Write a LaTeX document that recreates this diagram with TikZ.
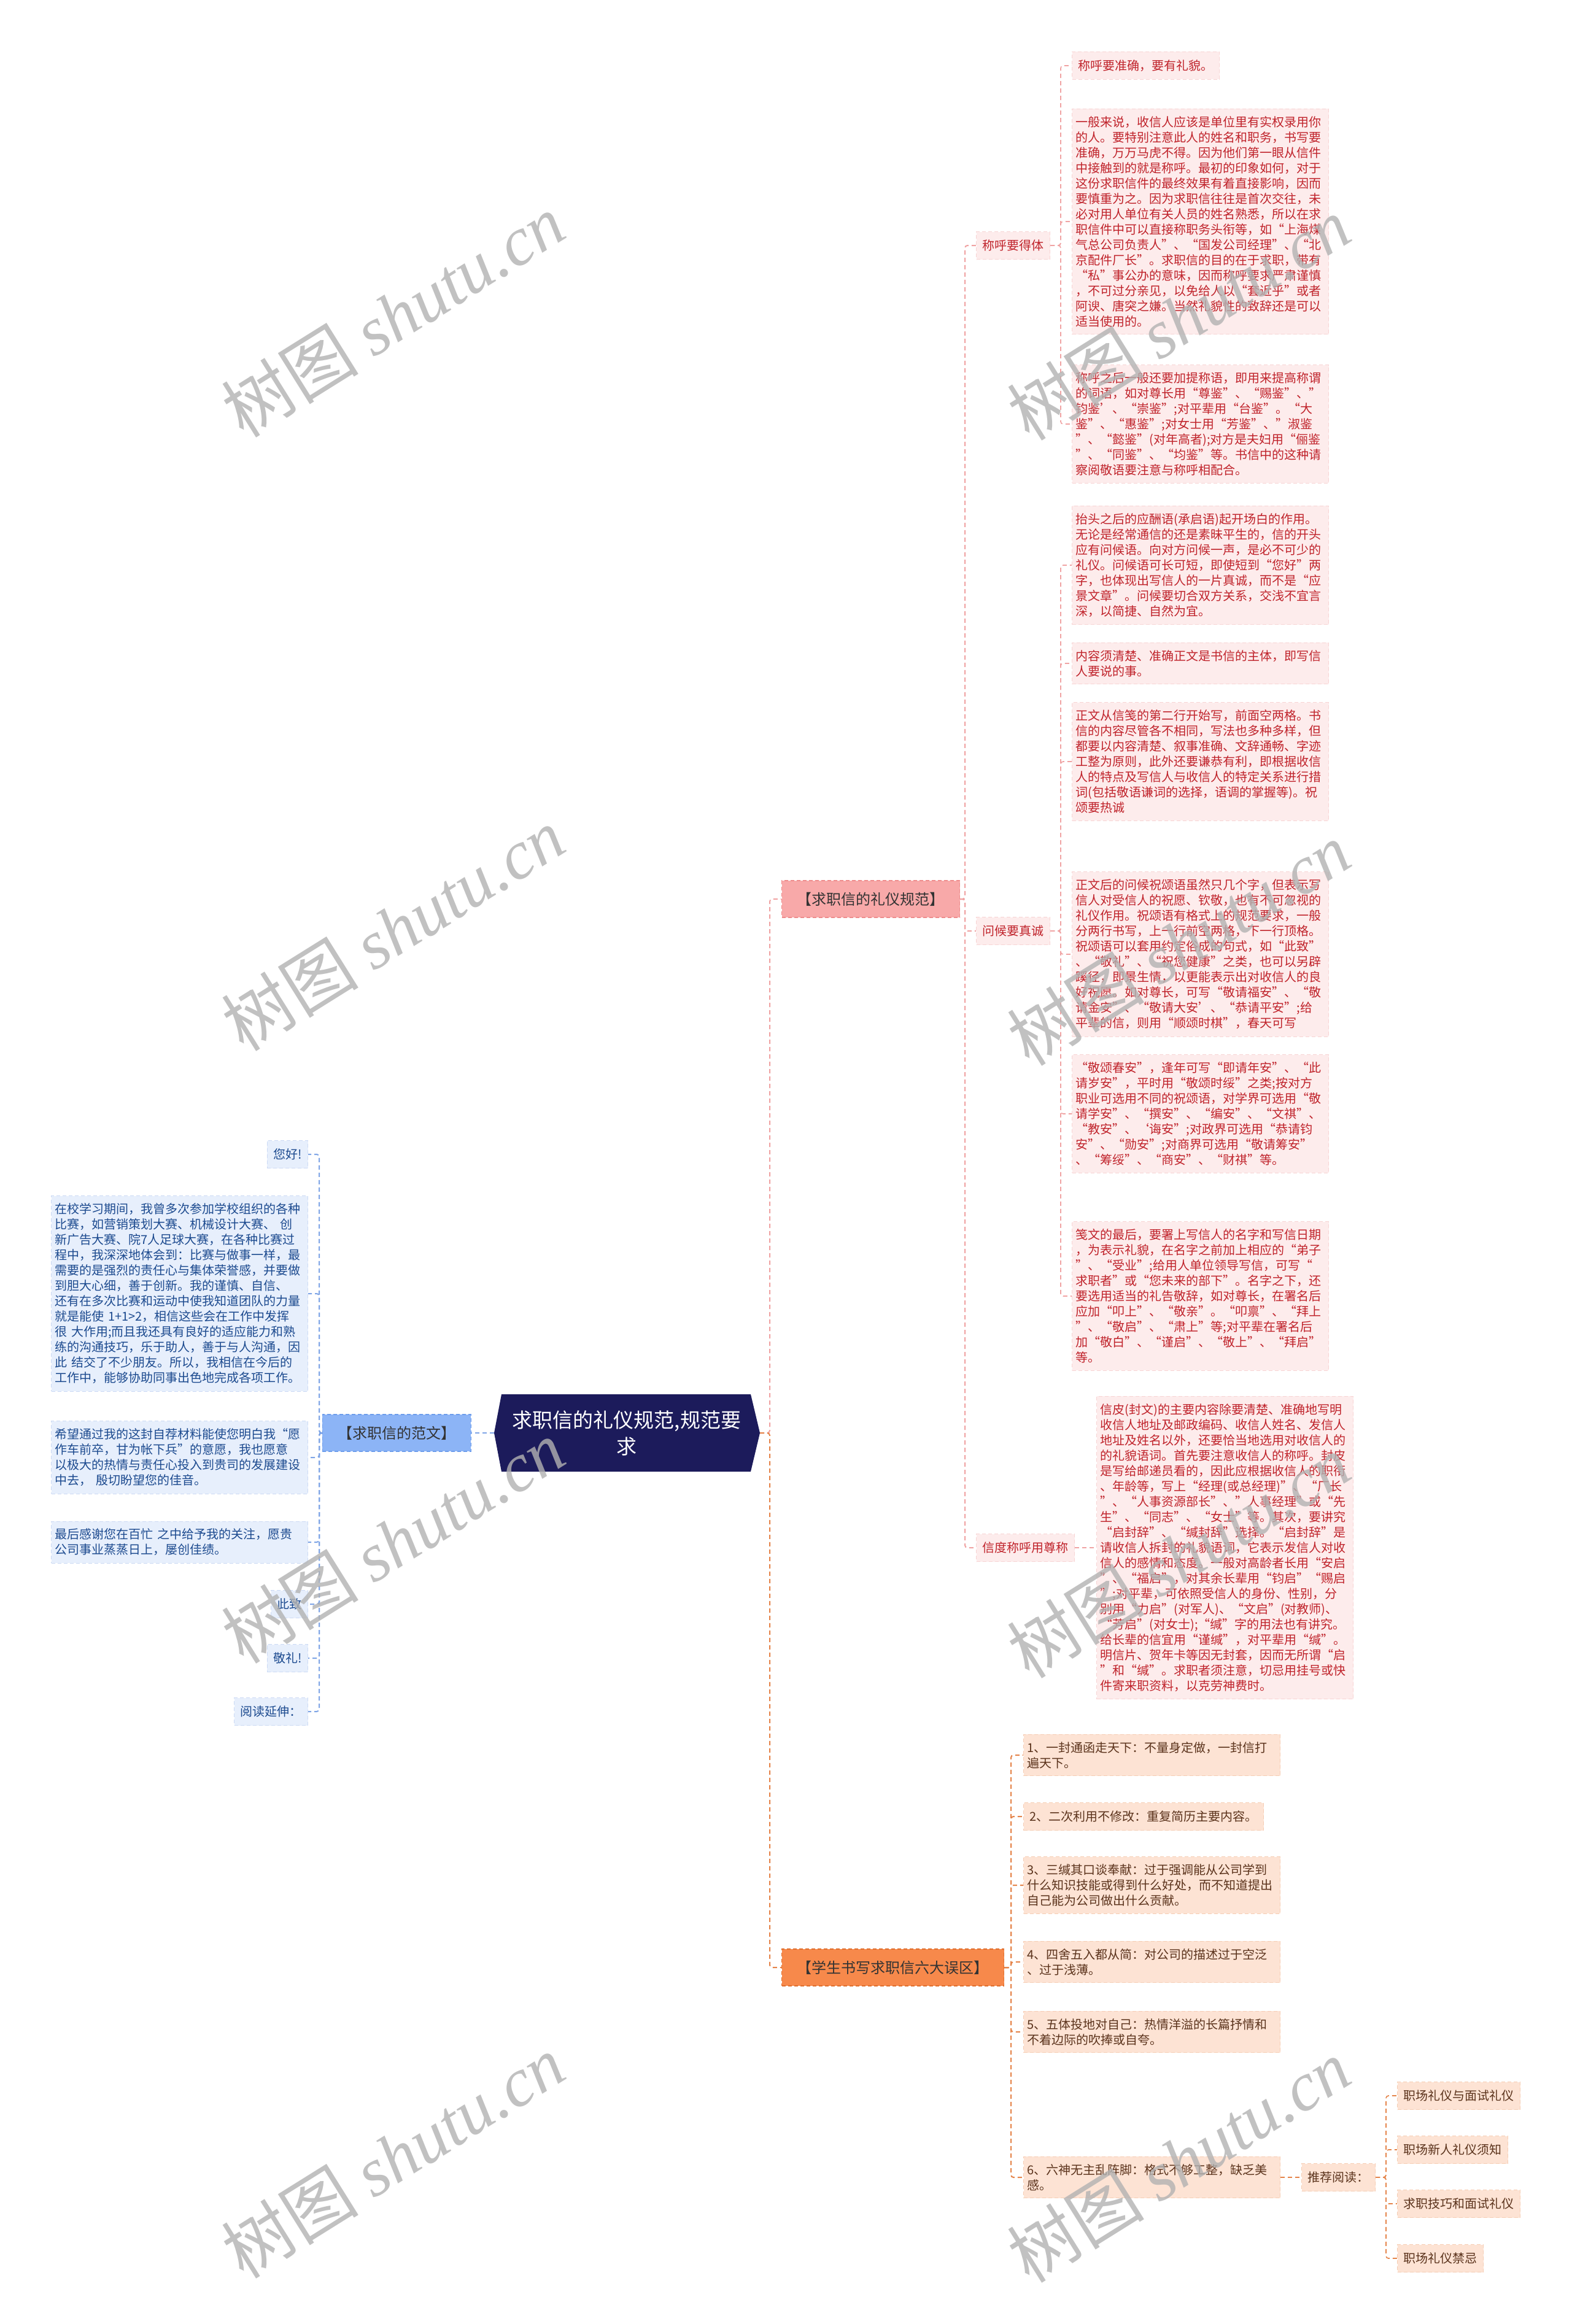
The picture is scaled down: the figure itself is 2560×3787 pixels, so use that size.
\documentclass[tikz,border=0pt]{standalone}
\usepackage{fontspec}
\setmainfont{Noto Sans CJK SC}
\newfontfamily\wmlat{Liberation Serif}
\usetikzlibrary{calc}
\definecolor{mainfill}{HTML}{1C1B5B}
\definecolor{redline}{HTML}{F0A3A3}
\definecolor{redfill}{HTML}{FDECEC}
\definecolor{redborder}{HTML}{F7D4D4}
\definecolor{redtext}{HTML}{C0232B}
\definecolor{redbr}{HTML}{F8A9A9}
\definecolor{redbrborder}{HTML}{EE8C8C}
\definecolor{orline}{HTML}{E5844A}
\definecolor{orfill}{HTML}{FDE3D4}
\definecolor{orborder}{HTML}{F5CDB4}
\definecolor{ortext}{HTML}{5B331C}
\definecolor{orbr}{HTML}{F7894B}
\definecolor{orbrborder}{HTML}{E0702F}
\definecolor{blline}{HTML}{7FA5E6}
\definecolor{blfill}{HTML}{E7EFFC}
\definecolor{blborder}{HTML}{CCDAF4}
\definecolor{bltext}{HTML}{1C4A8F}
\definecolor{blbr}{HTML}{8CB4F6}
\definecolor{blbrborder}{HTML}{6C9CEC}
\definecolor{brtext}{HTML}{333333}
\tikzset{
  boxdash/.style={dash pattern=on 6pt off 4pt, line width=1pt},
  para/.style={align=left, text width=406pt, inner xsep=6pt, inner ysep=12pt, font=\fontsize{20}{25}\selectfont, boxdash},
  lab/.style={align=left, inner xsep=10pt, inner ysep=0pt, minimum height=45pt, font=\fontsize{20}{25}\selectfont, boxdash},
  redbox/.style={fill=redfill, draw=redborder, text=redtext},
  orbox/.style={fill=orfill, draw=orborder, text=ortext},
  blbox/.style={fill=blfill, draw=blborder, text=bltext},
  branch/.style={align=center, inner xsep=25pt, inner ysep=0pt, minimum height=60pt, font=\fontsize{24}{28}\selectfont, text=brtext, boxdash, line width=1.2pt},
  mainnode/.style={align=center, inner sep=0pt, minimum width=407pt, minimum height=126pt, text=white, font=\fontsize{33}{43}\selectfont},
  conn/.style={dash pattern=on 7pt off 5pt, line width=2pt, rounded corners=4pt},
  subconn/.style={dash pattern=on 7pt off 5pt, line width=1.6pt, rounded corners=4pt},
  wm/.style={rotate=32, text=black!30, opacity=0.8, font=\fontsize{112}{112}\selectfont}
}
\begin{document}
\begin{tikzpicture}[x=1pt,y=-1pt]
\useasboundingbox[fill=white] (0,0) rectangle (2560,3787);

% main node
\fill[mainfill] (805,2335) -- (817,2272) -- (1223,2272) -- (1238,2335) -- (1223,2398) -- (817,2398) -- cycle;
\node[mainnode] (main) at (1021,2335) {求职信的礼仪规范,规范要\\求};
\coordinate (mainL) at (805,2335);
\coordinate (mainR) at (1238,2335);

% branches
\node[branch, anchor=west, fill=redbr, draw=redbrborder] (b1) at (1273,1465) {【求职信的礼仪规范】};
\node[branch, anchor=west, fill=orbr, draw=orbrborder] (b2) at (1273,3206) {【学生书写求职信六大误区】};
\node[branch, anchor=east, fill=blbr, draw=blbrborder] (fw) at (768,2335) {【求职信的范文】};

% spine coordinates
\coordinate (tr) at (1254,2335);
\coordinate (rsp) at (1572,0);
\coordinate (rsub) at (1728,0);
\coordinate (osp) at (1647,0);
\coordinate (ksp) at (2258,0);
\coordinate (bsp) at (520,0);

% red labels
\node[lab, redbox, anchor=west] (s1) at (1590,400) {称呼要得体};
\node[lab, redbox, anchor=west] (s2) at (1590,1517) {问候要真诚};
\node[lab, redbox, anchor=west] (s3) at (1590,2522) {信度称呼用尊称};

% red paragraphs
\node[lab, redbox, anchor=west] (r1) at (1746,107) {称呼要准确，要有礼貌。};
\node[para, redbox, anchor=west] (r2) at (1746,361) {一般来说，收信人应该是单位里有实权录用你\\的人。要特别注意此人的姓名和职务，书写要\\准确，万万马虎不得。因为他们第一眼从信件\\中接触到的就是称呼。最初的印象如何，对于\\这份求职信件的最终效果有着直接影响，因而\\要慎重为之。因为求职信往往是首次交往，未\\必对用人单位有关人员的姓名熟悉，所以在求\\职信件中可以直接称职务头衔等，如“上海煤\\气总公司负责人”、“国发公司经理”、“北\\京配件厂长”。求职信的目的在于求职，带有\\“私”事公办的意味，因而称呼要求严肃谨慎\\，不可过分亲见，以免给人以“套近乎”或者\\阿谀、唐突之嫌。当然礼貌性的致辞还是可以\\适当使用的。};
\node[para, redbox, anchor=west] (r3) at (1746,691) {称呼之后一般还要加提称语，即用来提高称谓\\的词语，如对尊长用“尊鉴”、“赐鉴”、”\\钧鉴’、“崇鉴”;对平辈用“台鉴”。“大\\鉴”、“惠鉴”;对女士用“芳鉴”、”淑鉴\\”、“懿鉴”(对年高者);对方是夫妇用“俪鉴\\”、“同鉴”、“均鉴”等。书信中的这种请\\察阅敬语要注意与称呼相配合。};
\node[para, redbox, anchor=west] (r4) at (1746,921) {抬头之后的应酬语(承启语)起开场白的作用。\\无论是经常通信的还是素昧平生的，信的开头\\应有问候语。向对方问候一声，是必不可少的\\礼仪。问候语可长可短，即使短到“您好”两\\字，也体现出写信人的一片真诚，而不是“应\\景文章”。问候要切合双方关系，交浅不宜言\\深，以简捷、自然为宜。};
\node[para, redbox, anchor=west] (r5) at (1746,1081) {内容须清楚、准确正文是书信的主体，即写信\\人要说的事。};
\node[para, redbox, anchor=west] (r6) at (1746,1241) {正文从信笺的第二行开始写，前面空两格。书\\信的内容尽管各不相同，写法也多种多样，但\\都要以内容清楚、叙事准确、文辞通畅、字迹\\工整为原则，此外还要谦恭有利，即根据收信\\人的特点及写信人与收信人的特定关系进行措\\\mbox{词(包括敬语谦词的选择，语调的掌握等)。祝}\\颂要热诚};
\node[para, redbox, anchor=west] (r7) at (1746,1555) {正文后的问候祝颂语虽然只几个字，但表示写\\信人对受信人的祝愿、钦敬，也有不可忽视的\\礼仪作用。祝颂语有格式上的规范要求，一般\\分两行书写，上一行前空两格，下一行顶格。\\祝颂语可以套用约定俗成的句式，如“此致”\\、“敬礼”、“祝您健康”之类，也可以另辟\\蹊径，即景生情，以更能表示出对收信人的良\\好祝愿。如对尊长，可写“敬请福安”、“敬\\请金安”、“敬请大安’、“恭请平安”;给\\平辈的信，则用“顺颂时棋”，春天可写};
\node[para, redbox, anchor=west] (r8) at (1746,1815) {“敬颂春安”，逢年可写“即请年安”、“此\\请岁安”，平时用“敬颂时绥”之类;按对方\\职业可选用不同的祝颂语，对学界可选用“敬\\请学安”、“撰安”、“编安”、“文祺”、\\“教安”、‘诲安”;对政界可选用“恭请钧\\安”、“勋安”;对商界可选用“敬请筹安”\\、“筹绥”、“商安”、“财祺”等。};
\node[para, redbox, anchor=west] (r9) at (1746,2112) {笺文的最后，要署上写信人的名字和写信日期\\，为表示礼貌，在名字之前加上相应的“弟子\\”、“受业”;给用人单位领导写信，可写“\\求职者”或“您未来的部下”。名字之下，还\\要选用适当的礼告敬辞，如对尊长，在署名后\\应加“叩上”、“敬亲”。“叩禀”、“拜上\\”、“敬启”、“肃上”等;对平辈在署名后\\加“敬白”、“谨启”、“敬上”、“拜启”\\等。};
\node[para, redbox, anchor=west] (r10) at (1786,2522) {信皮(封文)的主要内容除要清楚、准确地写明\\收信人地址及邮政编码、收信人姓名、发信人\\地址及姓名以外，还要恰当地选用对收信人的\\的礼貌语词。首先要注意收信人的称呼。封皮\\是写给邮递员看的，因此应根据收信人的职衔\\、年龄等，写上“经理(或总经理)”、“厂长\\”、“人事资源部长”、”人事经理”或“先\\生”、“同志”、“女士”等。其次，要讲究\\“启封辞”、“缄封辞”选择。“启封辞”是\\请收信人拆封的礼貌语词，它表示发信人对收\\信人的感情和态度。一般对高龄者长用“安启\\”、“福启”，对其余长辈用“钧启”“赐启\\”;对平辈，可依照受信人的身份、性别，分\\别用“力启”(对军人)、“文启”(对教师)、\\“芳启”(对女士);“缄”字的用法也有讲究。\\给长辈的信宜用“谨缄”，对平辈用“缄”。\\明信片、贺年卡等因无封套，因而无所谓“启\\”和“缄”。求职者须注意，切忌用挂号或快\\件寄来职资料，以克劳神费时。};

% orange items
\node[para, orbox, anchor=west] (o1) at (1667,2860) {1、一封通函走天下：不量身定做，一封信打\\遍天下。};
\node[lab, orbox, anchor=west] (o2) at (1667,2960) {2、二次利用不修改：重复简历主要内容。};
\node[para, orbox, anchor=west] (o3) at (1667,3072) {3、三缄其口谈奉献：过于强调能从公司学到\\什么知识技能或得到什么好处，而不知道提出\\自己能为公司做出什么贡献。};
\node[para, orbox, anchor=west] (o4) at (1667,3197) {4、四舍五入都从简：对公司的描述过于空泛\\、过于浅薄。};
\node[para, orbox, anchor=west] (o5) at (1667,3311) {5、五体投地对自己：热情洋溢的长篇抒情和\\不着边际的吹捧或自夸。};
\node[para, orbox, anchor=west] (o6) at (1667,3548) {6、六神无主乱阵脚：格式不够工整，缺乏美\\感。};
\node[lab, orbox, anchor=west] (rec) at (2120,3548) {推荐阅读：};
\node[lab, orbox, anchor=west] (k1) at (2276,3415) {职场礼仪与面试礼仪};
\node[lab, orbox, anchor=west] (k2) at (2276,3503) {职场新人礼仪须知};
\node[lab, orbox, anchor=west] (k3) at (2276,3591) {求职技巧和面试礼仪};
\node[lab, orbox, anchor=west] (k4) at (2276,3680) {职场礼仪禁忌};

% blue items
\node[lab, blbox, anchor=east] (hi) at (502,1881) {您好!};
\node[para, blbox, anchor=east] (p1) at (502,2108) {在校学习期间，我曾多次参加学校组织的各种\\比赛，如营销策划大赛、机械设计大赛、 创\\新广告大赛、院7人足球大赛，在各种比赛过\\程中，我深深地体会到：比赛与做事一样，最\\需要的是强烈的责任心与集体荣誉感，并要做\\到胆大心细，善于创新。我的谨慎、自信、\\还有在多次比赛和运动中使我知道团队的力量\\就是能使 1+1>2，相信这些会在工作中发挥\\很 大作用;而且我还具有良好的适应能力和熟\\练的沟通技巧，乐于助人，善于与人沟通，因\\此 结交了不少朋友。所以，我相信在今后的\\工作中，能够协助同事出色地完成各项工作。};
\node[para, blbox, anchor=east] (p2) at (502,2375) {希望通过我的这封自荐材料能使您明白我“愿\\作车前卒，甘为帐下兵”的意愿，我也愿意\\以极大的热情与责任心投入到贵司的发展建设\\中去， 殷切盼望您的佳音。};
\node[para, blbox, anchor=east] (p3) at (502,2513) {最后感谢您在百忙 之中给予我的关注，愿贵\\公司事业蒸蒸日上，屡创佳绩。};
\node[lab, blbox, anchor=east] (cz) at (502,2614) {此致};
\node[lab, blbox, anchor=east] (jl) at (502,2702) {敬礼!};
\node[lab, blbox, anchor=east] (yd) at (502,2789) {阅读延伸：};

% connectors main -> branches
\draw[conn, redline] (mainR) -- (tr) |- (b1.west);
\draw[conn, orline] (mainR) -- (tr) |- (b2.west);
\draw[conn, blline] (mainL) -- (fw.east);

% red branch
\foreach \t in {s1,s2,s3}{\draw[conn, redline] (b1.east) -- (b1.east -| rsp) |- (\t.west);}
\foreach \t in {r1,r2,r3}{\draw[subconn, redline] (s1.east) -- (s1.east -| rsub) |- (\t.west);}
\foreach \t in {r4,r5,r6,r7,r8,r9}{\draw[subconn, redline] (s2.east) -- (s2.east -| rsub) |- (\t.west);}
\draw[subconn, redline] (s3.east) -- (r10.west);

% orange branch
\foreach \t in {o1,o2,o3,o4,o5,o6}{\draw[conn, orline] (b2.east) -- (b2.east -| osp) |- (\t.west);}
\draw[subconn, orline] (o6.east) -- (rec.west);
\foreach \t in {k1,k2,k3,k4}{\draw[subconn, orline] (rec.east) -- (rec.east -| ksp) |- (\t.west);}

% blue branch
\foreach \t in {hi,p1,p2,p3,cz,jl,yd}{\draw[conn, blline] (fw.west) -- (fw.west -| bsp) |- (\t.east);}

% watermarks
\foreach \p in {(640,514),(1920,519),(640,1514),(1920,1538),(640,2512),(1920,2536),(640,3514),(1920,3521)}{
  \node[wm] at \p {树图 {\wmlat\itshape shutu.cn}};
}
\end{tikzpicture}
\end{document}
